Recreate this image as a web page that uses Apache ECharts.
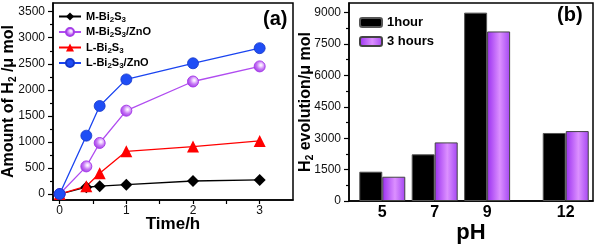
<!DOCTYPE html>
<html><head><meta charset="utf-8">
<script src="https://cdn.jsdelivr.net/npm/echarts@6/dist/echarts.min.js"></script>
<style>html,body{margin:0;padding:0;background:#fff}#c{width:600px;height:245px}</style>
</head><body><div id="c"></div>
<script>
// ---- data ----
var timeH = [0, 0.4, 0.6, 1, 2, 3];
var mBi2S3 = [0, 130, 150, 180, 250, 270];
var mBi2S3ZnO = [0, 530, 980, 1600, 2160, 2450];
var lBi2S3 = [0, 150, 400, 820, 910, 1020];
var lBi2S3ZnO = [0, 1120, 1690, 2200, 2510, 2800];
var seriesNames = ['M-Bi2S3', 'M-Bi2S3/ZnO', 'L-Bi2S3', 'L-Bi2S3/ZnO'];
var timeTicks = [0, 1, 2, 3];
var amountTicks = [0, 500, 1000, 1500, 2000, 2500, 3000, 3500];

var pH = [5, 7, 9, 12];
var oneHour = [1400, 2230, 9000, 3250];
var threeHours = [1160, 2800, 8100, 3340];
var barNames = ['1hour', '3 hours'];
var evoTicks = [0, 1500, 3000, 4500, 6000, 7500, 9000];

function pairs(xs, ys){ return xs.map(function(x,i){ return [x, ys[i]]; }); }
function minorOf(t){ var r=[]; for(var i=0;i<t.length-1;i++){ r.push((t[i]+t[i+1])/2); } return r; }
function plain(v){ return String(v); }

var FONT = 'Arial, "Liberation Sans", sans-serif';
var chart = echarts.init(document.getElementById('c'), null, {renderer:'canvas'});
var purpleGrad = new echarts.graphic.LinearGradient(0,0,1,0,[
  {offset:0,color:'#9a2ff0'},{offset:0.55,color:'#dc90ff'},{offset:1,color:'#a446f2'}]);
var sphere = new echarts.graphic.RadialGradient(0.6,0.4,0.6,[
  {offset:0,color:'#ffffff'},{offset:0.2,color:'#f0d8ff'},{offset:0.55,color:'#c77af5'},{offset:1,color:'#a23ce8'}]);

function legendFmt(n){ return n.replace(/Bi2S3/, 'Bi{s|2}S{s|3}'); }
var subRich = {s:{fontSize:8, fontWeight:'bold', fontFamily:FONT, padding:[6,0,0,0], color:'#000'}};

var axisBase = {
  axisLine:{show:true, onZero:false, lineStyle:{color:'#000', width:1.5}},
  splitLine:{show:false},
  nameMoveOverlap:false,
  axisLabel:{color:'#111', fontFamily:FONT, fontSize:12, formatter:plain},
  axisTick:{show:true, length:4, lineStyle:{color:'#000', width:1.2}}
};
function ax(o){ return echarts.util.merge(echarts.util.clone(axisBase), o, true); }

var option = {
  animation:false,
  grid:[
    {left:53, right:307, top:3, bottom:45, show:true, borderColor:'#000', borderWidth:1.5, outerBoundsMode:'none', containLabel:false},
    {left:349, right:7, top:3, bottom:44, show:true, borderColor:'#000', borderWidth:1.5, outerBoundsMode:'none', containLabel:false}
  ],
  legend:[
    {data:seriesNames, orient:'vertical', left:53, top:6, itemWidth:22, itemHeight:10, itemGap:3,
     formatter:legendFmt,
     textStyle:{fontFamily:FONT, fontWeight:'bold', fontSize:11, color:'#000', rich:subRich}},
    {data:barNames, orient:'vertical', left:354, top:11, itemWidth:22, itemHeight:9, itemGap:6,
     textStyle:{fontFamily:FONT, fontWeight:'bold', fontSize:13, color:'#000'}}
  ],
  xAxis:[
    ax({type:'value', gridIndex:0, min:-0.1, max:3.5,
      axisLabel:{customValues:timeTicks, fontSize:12, margin:5},
      axisTick:{customValues:timeTicks.concat([0.5, 1.5, 2.5])},
      name:'Time/h', nameLocation:'middle', nameGap:16,
      nameTextStyle:{fontFamily:FONT, fontWeight:'bold', fontSize:17, color:'#000'}}),
    ax({type:'value', gridIndex:1, min:3.73, max:13.04,
      axisLabel:{customValues:pH, fontSize:16, fontWeight:'bold', color:'#000', margin:4},
      axisTick:{show:false},
      name:'pH', nameLocation:'middle', nameGap:21,
      nameTextStyle:{fontFamily:FONT, fontWeight:'bold', fontSize:22, color:'#000'}})
  ],
  yAxis:[
    ax({type:'value', gridIndex:0, min:-115, max:3667,
      axisLabel:{customValues:amountTicks},
      axisTick:{customValues:amountTicks, length:5},
      name:'Amount of H{s|2} /μ mol', nameLocation:'middle', nameGap:35, nameRotate:90,
      nameTextStyle:{fontFamily:FONT, fontWeight:'bold', fontSize:16, color:'#000',
        rich:{s:{fontSize:10, fontWeight:'bold', fontFamily:FONT, padding:[8,0,0,0], color:'#000'}}}}),
    ax({type:'value', gridIndex:0, min:-115, max:3667, position:'left',
      axisLine:{show:false}, axisLabel:{show:false},
      axisTick:{customValues:minorOf(amountTicks), length:3}}),
    ax({type:'value', gridIndex:1, min:0, max:9460,
      axisLabel:{customValues:evoTicks},
      axisTick:{customValues:evoTicks, length:5},
      name:'H{s|2} evolution/μ mol', nameLocation:'middle', nameGap:34, nameRotate:90,
      nameTextStyle:{fontFamily:FONT, fontWeight:'bold', fontSize:16, color:'#000',
        rich:{s:{fontSize:10, fontWeight:'bold', fontFamily:FONT, padding:[8,0,0,0], color:'#000'}}}}),
    ax({type:'value', gridIndex:1, min:0, max:9460, position:'left',
      axisLine:{show:false}, axisLabel:{show:false},
      axisTick:{customValues:minorOf(evoTicks), length:3}})
  ],
  series:[
    {name:seriesNames[0], type:'line', xAxisIndex:0, yAxisIndex:0, data:pairs(timeH, mBi2S3),
     symbol:'diamond', symbolSize:12, lineStyle:{color:'#000', width:1.3}, itemStyle:{color:'#000'}},
    {name:seriesNames[1], type:'line', xAxisIndex:0, yAxisIndex:0, data:pairs(timeH, mBi2S3ZnO),
     symbol:'circle', symbolSize:11, lineStyle:{color:'#b04cf0', width:1.3},
     itemStyle:{color:sphere, borderColor:'#a63ee8', borderWidth:1}},
    {name:seriesNames[2], type:'line', xAxisIndex:0, yAxisIndex:0, data:pairs(timeH, lBi2S3),
     symbol:'triangle', symbolSize:12, lineStyle:{color:'#ff0000', width:1.3}, itemStyle:{color:'#ff0000'}},
    {name:seriesNames[3], type:'line', xAxisIndex:0, yAxisIndex:0, data:pairs(timeH, lBi2S3ZnO),
     symbol:'circle', symbolSize:11, lineStyle:{color:'#1a44f0', width:1.3},
     itemStyle:{color:'#1f4df5', borderColor:'#1436c8', borderWidth:0.8}},
    {name:barNames[0], type:'bar', xAxisIndex:1, yAxisIndex:2, data:pairs(pH, oneHour),
     barWidth:23, barGap:'0%', itemStyle:{color:'#000', borderColor:'#555', borderWidth:1}},
    {name:barNames[1], type:'bar', xAxisIndex:1, yAxisIndex:2, data:pairs(pH, threeHours),
     barWidth:23, barGap:'0%', itemStyle:{color:purpleGrad, borderColor:'#444', borderWidth:1}}
  ],
  graphic:[
    {type:'text', left:263, top:9, style:{text:'(a)', font:'bold 20px '+FONT, fill:'#000'}},
    {type:'text', left:557, top:5, style:{text:'(b)', font:'bold 20px '+FONT, fill:'#000'}}
  ]
};
chart.setOption(option);
</script></body></html>
